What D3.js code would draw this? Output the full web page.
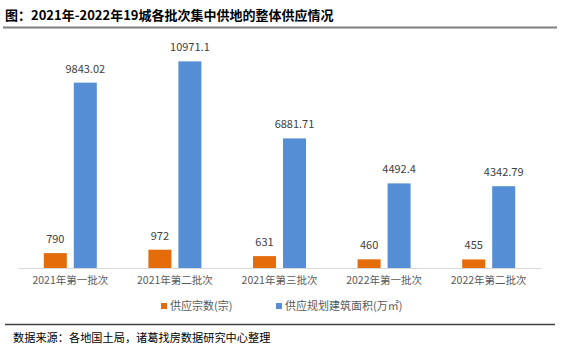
<!DOCTYPE html>
<html><head><meta charset="utf-8">
<script src="https://cdn.jsdelivr.net/npm/d3@7/dist/d3.min.js"></script>
<style>
html,body{margin:0;padding:0;background:#fff;}
svg{display:block;font-family:"Noto Sans CJK SC","Noto Sans",sans-serif;}
</style></head>
<body>
<svg id="c" width="572" height="347"></svg>
<script>
const categories = ["2021年第一批次","2021年第二批次","2021年第三批次","2022年第一批次","2022年第二批次"];
const seriesNames = ["供应宗数(宗)","供应规划建筑面积(万㎡)"];
const supplyCount = [790, 972, 631, 460, 455];
const supplyArea = [9843.02, 10971.1, 6881.71, 4492.4, 4342.79];
const areaLabels = ["9843.02","10971.1","6881.71","4492.4","4342.79"];
const colors = ["#e46c0a", "#558ed5"];
const title = "图：2021年-2022年19城各批次集中供地的整体供应情况";
const source = "数据来源：各地国土局，诸葛找房数据研究中心整理";

const svg = d3.select("#c");
const x = d3.scaleBand().domain(categories).range([18, 541]);
const xs = d3.scaleBand().domain([0,1]).range([0, x.bandwidth()]).paddingInner(0.233).paddingOuter(0.86);
const y = d3.scaleLinear().domain([0, 12000]).range([268, 42]);

// title
svg.append("text").attr("x", 5).attr("y", 20).attr("font-size", 13).attr("font-weight", "bold")
  .attr("fill", "#000").text(title);
svg.append("line").attr("x1", 3).attr("x2", 557).attr("y1", 27.5).attr("y2", 27.5)
  .attr("stroke", "#808080").attr("stroke-width", 2);

const data = [supplyCount, supplyArea];
const labels = [supplyCount.map(String), areaLabels];
data.forEach((vals, si) => {
  const g = svg.append("g");
  g.selectAll("rect").data(vals).join("rect")
    .attr("x", (d,i) => x(categories[i]) + xs(si))
    .attr("width", xs.bandwidth())
    .attr("y", d => y(d))
    .attr("height", d => y(0) - y(d))
    .attr("fill", colors[si]);
  g.selectAll("text").data(vals).join("text")
    .attr("x", (d,i) => x(categories[i]) + xs(si) + xs.bandwidth()/2)
    .attr("y", d => y(d) - 10)
    .attr("text-anchor", "middle").attr("font-size", 11).attr("fill", "#404040")
    .text((d,i) => labels[si][i]);
});

// axis
const ax = svg.append("g").attr("transform", "translate(0,268)")
  .call(d3.axisBottom(x).tickSize(0).tickPadding(9));
ax.select(".domain").attr("stroke", "#d9d9d9").attr("stroke-width", 1);
ax.selectAll("text").attr("font-size", 10.5).attr("fill", "#595959")
  .attr("font-family", "\"Noto Sans CJK SC\",sans-serif");

// legend
const legX = [161, 276];
seriesNames.forEach((n, i) => {
  svg.append("rect").attr("x", legX[i]).attr("y", 303).attr("width", 6).attr("height", 6).attr("fill", colors[i]);
  svg.append("text").attr("x", legX[i] + 9).attr("y", 310).attr("font-size", 11).attr("fill", "#595959").text(n);
});

svg.append("line").attr("x1", 5).attr("x2", 555).attr("y1", 324.5).attr("y2", 324.5)
  .attr("stroke", "#404040").attr("stroke-width", 1.5);
svg.append("text").attr("x", 13).attr("y", 342).attr("font-size", 11.2).attr("fill", "#000").text(source);
</script>
</body></html>
